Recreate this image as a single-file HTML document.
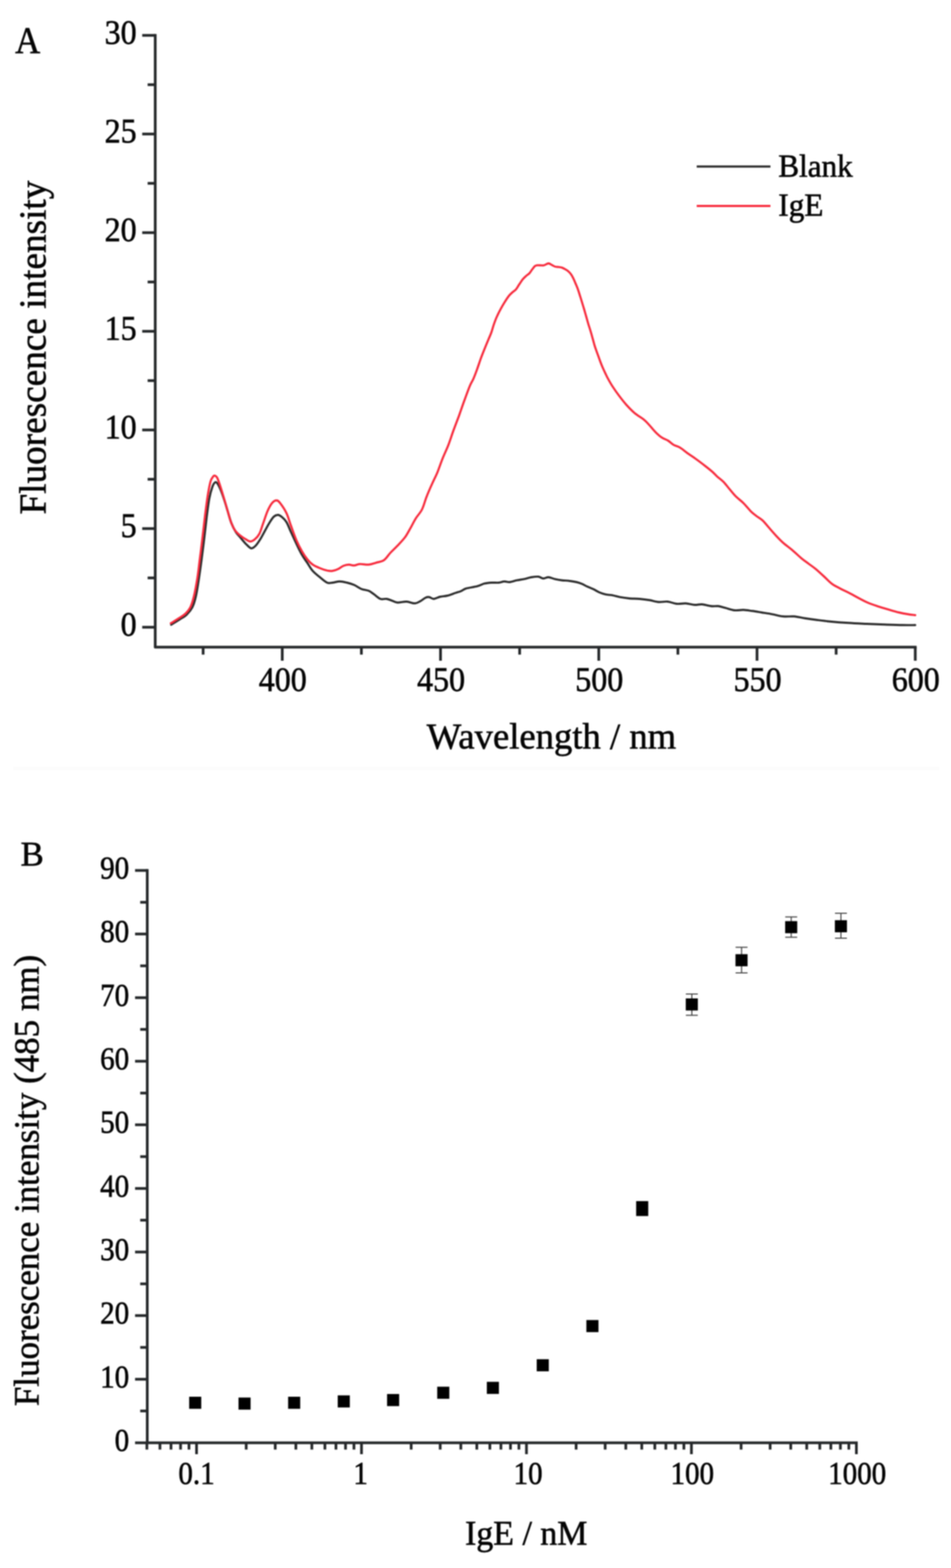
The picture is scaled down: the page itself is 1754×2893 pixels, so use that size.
<!DOCTYPE html>
<html lang="en"><head><meta charset="utf-8"><title>Fluorescence spectra and IgE titration</title>
<style>
html,body{margin:0;padding:0;background:#ffffff;}
body{width:1754px;height:2893px;overflow:hidden;}
svg{display:block;}
text{font-family:"Liberation Serif","DejaVu Serif",serif;fill:#050505;stroke:#050505;stroke-width:1.0px;}
.ta{font-size:59px;}
.la{font-size:67.6px;}
.tb{font-size:53.5px;}
.lb{font-size:64.5px;}
.ax{stroke:#25282a;stroke-width:5;fill:none;stroke-linejoin:round;}
.axb{stroke:#25282a;stroke-width:5;fill:none;}
</style></head><body>
<svg width="1754" height="2893" viewBox="0 0 1754 2893" style="filter:blur(1.2px)">
<rect x="0" y="0" width="1754" height="2893" fill="#ffffff"/>
<rect x="24" y="1415" width="1708" height="6" fill="#fcfcfc"/>
<g id="panelA">
<text class="la" style="font-size:64px" transform="translate(28.0 98.0) scale(1 1.08)">A</text>
<path class="ax" d="M286.30 62.70 V1194.00 H1690.60"/>
<path class="ax" d="M286.30 1157.20H262.30M286.30 1066.20H272.30M286.30 975.20H262.30M286.30 884.20H272.30M286.30 793.20H262.30M286.30 702.20H272.30M286.30 611.20H262.30M286.30 520.20H272.30M286.30 429.20H262.30M286.30 338.20H272.30M286.30 247.20H262.30M286.30 156.20H272.30M286.30 65.20H262.30M374.66 1194.00V1207.80M520.60 1194.00V1219.00M666.54 1194.00V1207.80M812.48 1194.00V1219.00M958.41 1194.00V1207.80M1104.35 1194.00V1219.00M1250.29 1194.00V1207.80M1396.22 1194.00V1219.00M1542.16 1194.00V1207.80M1688.10 1194.00V1219.00"/>
<text class="ta" text-anchor="end" transform="translate(252.0 1173.2) scale(1 1.08)">0</text>
<text class="ta" text-anchor="end" transform="translate(252.0 991.2) scale(1 1.08)">5</text>
<text class="ta" text-anchor="end" transform="translate(252.0 809.2) scale(1 1.08)">10</text>
<text class="ta" text-anchor="end" transform="translate(252.0 627.2) scale(1 1.08)">15</text>
<text class="ta" text-anchor="end" transform="translate(252.0 445.2) scale(1 1.08)">20</text>
<text class="ta" text-anchor="end" transform="translate(252.0 263.2) scale(1 1.08)">25</text>
<text class="ta" text-anchor="end" transform="translate(252.0 81.2) scale(1 1.08)">30</text>
<text class="ta" text-anchor="middle" transform="translate(521.6 1274.8) scale(1 1.08)">400</text>
<text class="ta" text-anchor="middle" transform="translate(813.5 1274.8) scale(1 1.08)">450</text>
<text class="ta" text-anchor="middle" transform="translate(1105.3 1274.8) scale(1 1.08)">500</text>
<text class="ta" text-anchor="middle" transform="translate(1397.2 1274.8) scale(1 1.08)">550</text>
<text class="ta" text-anchor="middle" transform="translate(1689.1 1274.8) scale(1 1.08)">600</text>
<text class="la" text-anchor="middle" transform="translate(1017.0 1381.2)">Wavelength / nm</text>
<text class="la" text-anchor="middle" style="font-size:68.7px" transform="translate(84.0 641.3) rotate(-90) scale(1 1.02)">Fluorescence intensity</text>
<path d="M315.7 1152.7C318.2 1151.1 325.9 1146.4 330.7 1143.3C335.4 1140.2 340.3 1137.8 344.3 1134.0C348.3 1130.2 351.8 1126.3 354.7 1120.7C357.5 1115.0 359.3 1109.0 361.3 1100.0C363.4 1091.0 365.3 1077.8 367.0 1066.7C368.7 1055.6 370.1 1045.6 371.7 1033.3C373.3 1021.1 375.1 1006.7 376.7 993.3C378.3 980.0 379.8 965.6 381.3 953.3C382.9 941.1 384.3 929.2 386.0 920.0C387.7 910.8 389.9 903.3 391.7 898.3C393.4 893.3 395.2 891.1 396.7 890.0C398.2 888.9 399.0 889.4 400.7 891.7C402.3 893.9 404.6 898.3 406.7 903.3C408.8 908.3 411.1 915.0 413.3 921.7C415.6 928.3 417.8 936.1 420.0 943.3C422.2 950.6 424.2 958.6 426.7 965.0C429.2 971.4 432.2 977.2 435.0 981.7C437.8 986.1 440.3 988.1 443.3 991.7C446.4 995.3 450.0 1000.0 453.3 1003.3C456.7 1006.7 460.3 1011.1 463.3 1011.7C466.4 1012.2 468.9 1009.4 471.7 1006.7C474.4 1003.9 477.2 999.4 480.0 995.0C482.8 990.6 485.6 985.0 488.3 980.0C491.1 975.0 493.9 969.4 496.7 965.0C499.4 960.6 502.3 955.8 505.0 953.3C507.7 950.8 510.2 949.9 512.7 950.0C515.2 950.1 517.4 951.8 520.0 954.0C522.6 956.2 525.6 958.7 528.3 963.3C531.1 967.9 533.6 975.0 536.7 981.7C539.7 988.3 543.3 996.4 546.7 1003.3C550.0 1010.3 553.3 1017.5 556.7 1023.3C560.0 1029.2 563.3 1033.3 566.7 1038.3C570.0 1043.3 572.8 1048.9 576.7 1053.3C580.6 1057.8 585.6 1061.4 590.0 1065.0C594.4 1068.6 599.4 1073.3 603.3 1075.0C607.2 1076.7 609.4 1075.4 613.3 1075.0C617.2 1074.6 622.2 1072.7 626.7 1072.7C631.1 1072.7 635.6 1073.9 640.0 1075.0C644.4 1076.1 648.9 1077.4 653.3 1079.3C657.8 1081.3 662.2 1084.9 666.7 1086.7C671.1 1088.4 676.1 1088.3 680.0 1090.0C683.9 1091.7 686.4 1094.2 690.0 1096.7C693.6 1099.2 697.8 1103.6 701.7 1105.0C705.6 1106.4 709.7 1104.4 713.3 1105.0C716.9 1105.6 720.0 1107.2 723.3 1108.3C726.7 1109.4 728.9 1111.4 733.3 1111.7C737.8 1111.9 744.7 1109.7 750.0 1110.0C755.3 1110.3 760.8 1113.4 765.0 1113.3C769.2 1113.2 771.7 1111.1 775.0 1109.3C778.3 1107.6 782.2 1103.9 785.0 1102.7C787.8 1101.4 789.2 1101.3 791.7 1101.7C794.2 1102.1 796.7 1105.1 800.0 1105.0C803.3 1104.9 807.5 1102.0 811.7 1101.0C815.8 1100.0 820.3 1100.2 825.0 1099.0C829.7 1097.8 835.8 1095.4 840.0 1094.0C844.2 1092.6 846.7 1092.1 850.0 1090.7C853.3 1089.3 855.0 1087.2 860.0 1085.7C865.0 1084.2 874.4 1083.2 880.0 1081.7C885.6 1080.2 888.9 1077.8 893.3 1076.7C897.8 1075.6 902.2 1075.3 906.7 1075.0C911.1 1074.7 916.1 1075.4 920.0 1075.0C923.9 1074.6 926.7 1072.8 930.0 1072.7C933.3 1072.5 936.1 1074.3 940.0 1074.0C943.9 1073.7 948.9 1071.6 953.3 1070.7C957.8 1069.7 962.2 1069.3 966.7 1068.3C971.1 1067.4 975.6 1065.7 980.0 1065.0C984.4 1064.3 989.7 1063.6 993.3 1064.0C996.9 1064.4 998.6 1067.2 1001.7 1067.3C1004.7 1067.5 1008.1 1064.8 1011.7 1065.0C1015.3 1065.2 1019.2 1067.4 1023.3 1068.3C1027.5 1069.3 1032.2 1070.1 1036.7 1070.7C1041.1 1071.2 1045.6 1071.1 1050.0 1071.7C1054.4 1072.2 1059.4 1073.1 1063.3 1074.0C1067.2 1074.9 1070.0 1075.9 1073.3 1077.3C1076.7 1078.7 1079.7 1080.7 1083.3 1082.3C1086.9 1084.0 1091.4 1085.6 1095.0 1087.3C1098.6 1089.1 1101.4 1091.1 1105.0 1092.7C1108.6 1094.2 1112.5 1095.7 1116.7 1096.7C1120.8 1097.6 1125.6 1097.5 1130.0 1098.3C1134.4 1099.2 1138.3 1100.7 1143.3 1101.7C1148.3 1102.6 1153.9 1103.4 1160.0 1104.0C1166.1 1104.6 1173.7 1104.4 1180.0 1105.0C1186.3 1105.6 1192.2 1106.4 1198.0 1107.3C1203.8 1108.3 1209.1 1110.2 1214.7 1110.7C1220.2 1111.1 1225.8 1109.4 1231.3 1110.0C1236.9 1110.6 1242.4 1113.4 1248.0 1114.0C1253.6 1114.6 1259.1 1113.0 1264.7 1113.3C1270.2 1113.7 1276.3 1115.7 1281.3 1116.0C1286.3 1116.3 1289.7 1114.6 1294.7 1115.0C1299.7 1115.4 1306.3 1117.8 1311.3 1118.3C1316.3 1118.9 1320.2 1117.8 1324.7 1118.3C1329.1 1118.9 1333.0 1120.4 1338.0 1121.7C1343.0 1122.9 1349.1 1125.4 1354.7 1126.0C1360.2 1126.6 1365.8 1125.1 1371.3 1125.3C1376.9 1125.6 1382.4 1126.6 1388.0 1127.3C1393.6 1128.1 1398.6 1129.0 1404.7 1130.0C1410.8 1131.0 1418.0 1132.1 1424.7 1133.3C1431.3 1134.6 1438.0 1136.7 1444.7 1137.3C1451.3 1138.0 1458.0 1136.8 1464.7 1137.3C1471.3 1137.9 1477.4 1139.6 1484.7 1140.7C1491.9 1141.8 1500.2 1143.0 1508.0 1144.0C1515.8 1145.0 1521.9 1145.8 1531.3 1146.7C1540.8 1147.6 1553.6 1148.6 1564.7 1149.3C1575.8 1150.1 1586.9 1150.5 1598.0 1151.0C1609.1 1151.5 1620.2 1151.9 1631.3 1152.3C1642.4 1152.7 1655.2 1153.2 1664.7 1153.3C1674.1 1153.5 1684.1 1153.3 1688.0 1153.3" fill="none" stroke="#2b2b2b" stroke-width="3.9" stroke-linejoin="round" stroke-linecap="round"/>
<path d="M315.0 1150.0C317.5 1148.4 325.4 1143.7 330.0 1140.7C334.6 1137.7 338.8 1135.3 342.3 1132.0C345.8 1128.7 348.4 1126.0 351.0 1120.7C353.6 1115.3 355.5 1109.0 357.7 1100.0C359.8 1091.0 362.2 1077.8 364.0 1066.7C365.8 1055.6 366.8 1045.6 368.3 1033.3C369.9 1021.1 371.7 1007.2 373.3 993.3C375.0 979.4 376.7 963.3 378.3 950.0C380.0 936.7 381.7 923.6 383.3 913.3C385.0 903.1 386.7 894.1 388.3 888.3C390.0 882.6 391.9 880.8 393.3 879.0C394.7 877.2 395.4 877.2 396.7 877.7C397.9 878.1 399.0 878.2 400.7 881.7C402.3 885.1 404.6 891.9 406.7 898.3C408.8 904.7 411.1 912.5 413.3 920.0C415.6 927.5 417.8 935.8 420.0 943.3C422.2 950.8 424.4 959.2 426.7 965.0C428.9 970.8 430.6 974.4 433.3 978.3C436.1 982.2 440.0 985.6 443.3 988.3C446.7 991.1 450.3 993.2 453.3 995.0C456.4 996.8 458.9 999.0 461.7 999.0C464.4 999.0 467.2 997.3 470.0 995.0C472.8 992.7 475.8 989.7 478.3 985.0C480.8 980.3 482.5 973.6 485.0 966.7C487.5 959.7 490.6 949.7 493.3 943.3C496.1 936.9 498.9 931.7 501.7 928.3C504.4 925.0 507.5 923.3 510.0 923.3C512.5 923.3 513.6 924.4 516.7 928.3C519.7 932.2 525.0 939.7 528.3 946.7C531.7 953.6 533.6 961.7 536.7 970.0C539.7 978.3 543.3 988.9 546.7 996.7C550.0 1004.4 553.3 1010.8 556.7 1016.7C560.0 1022.5 563.3 1027.5 566.7 1031.7C570.0 1035.8 572.8 1038.9 576.7 1041.7C580.6 1044.4 585.6 1046.5 590.0 1048.3C594.4 1050.2 599.4 1051.8 603.3 1052.7C607.2 1053.5 610.0 1053.8 613.3 1053.3C616.7 1052.9 620.0 1051.6 623.3 1050.0C626.7 1048.4 630.0 1045.4 633.3 1044.0C636.7 1042.6 640.0 1041.8 643.3 1041.7C646.7 1041.6 650.0 1043.5 653.3 1043.3C656.7 1043.2 658.9 1040.9 663.3 1040.7C667.8 1040.4 675.0 1042.1 680.0 1041.7C685.0 1041.3 688.6 1039.7 693.3 1038.3C698.1 1036.9 703.9 1036.4 708.3 1033.3C712.8 1030.3 715.8 1024.4 720.0 1020.0C724.2 1015.6 728.9 1011.4 733.3 1006.7C737.8 1001.9 742.8 996.9 746.7 991.7C750.6 986.4 753.3 980.8 756.7 975.0C760.0 969.2 763.1 962.5 766.7 956.7C770.3 950.8 775.0 946.7 778.3 940.0C781.7 933.3 783.6 924.4 786.7 916.7C789.7 908.9 793.3 900.8 796.7 893.3C800.0 885.8 803.3 879.7 806.7 871.7C810.0 863.6 813.3 853.3 816.7 845.0C820.0 836.7 823.3 830.3 826.7 821.7C830.0 813.1 833.3 802.5 836.7 793.3C840.0 784.2 843.3 775.8 846.7 766.7C850.0 757.5 853.3 747.5 856.7 738.3C860.0 729.2 863.9 718.2 866.7 711.7C869.4 705.1 870.9 704.0 873.1 698.9C875.3 693.8 877.8 687.2 880.1 680.8C882.4 674.4 884.8 667.1 887.1 660.7C889.4 654.4 891.8 648.6 894.1 642.7C896.5 636.9 899.2 630.5 901.2 625.6C903.2 620.7 904.7 617.7 906.2 613.5C907.7 609.3 908.9 604.5 910.2 600.5C911.5 596.5 912.9 592.8 914.2 589.4C915.5 586.0 916.7 583.6 918.2 580.4C919.7 577.2 921.3 574.1 923.3 570.4C925.3 566.7 927.8 562.3 930.3 558.3C932.8 554.3 935.8 549.5 938.3 546.3C940.8 543.1 943.1 541.2 945.3 539.2C947.5 537.2 949.4 536.5 951.4 534.2C953.4 531.9 955.2 528.4 957.4 525.2C959.6 522.0 962.2 517.8 964.4 515.1C966.6 512.4 968.4 510.9 970.4 509.1C972.4 507.3 974.6 506.1 976.5 504.1C978.4 502.1 979.8 499.3 981.5 497.1C983.2 494.9 985.0 492.3 986.5 491.0C988.0 489.7 988.8 489.8 990.5 489.5C992.2 489.2 994.5 489.5 996.5 489.5C998.5 489.5 1000.8 490.0 1002.6 489.7C1004.5 489.4 1006.0 488.1 1007.6 487.5C1009.2 486.9 1010.2 485.8 1012.0 486.0C1013.8 486.2 1016.1 488.0 1018.1 489.0C1020.1 490.0 1022.1 491.4 1024.1 492.0C1026.1 492.6 1028.1 492.3 1030.1 492.6C1032.1 492.9 1034.1 492.9 1036.1 493.6C1038.1 494.3 1040.2 495.4 1042.2 496.6C1044.2 497.8 1046.4 499.0 1048.2 500.6C1050.0 502.2 1051.7 504.0 1053.2 506.1C1054.7 508.2 1055.9 510.4 1057.2 513.1C1058.5 515.8 1059.9 519.0 1061.2 522.2C1062.5 525.4 1064.0 528.5 1065.3 532.2C1066.6 535.9 1068.0 540.1 1069.3 544.3C1070.6 548.5 1072.0 552.9 1073.3 557.3C1074.6 561.6 1076.0 565.9 1077.3 570.4C1078.6 574.9 1080.0 579.7 1081.3 584.4C1082.6 589.1 1083.9 594.0 1085.3 598.5C1086.7 603.0 1088.1 607.0 1089.4 611.5C1090.8 616.0 1092.2 621.4 1093.4 625.6C1094.6 629.8 1095.4 633.2 1096.4 636.6C1097.4 640.0 1098.2 642.4 1099.4 645.7C1100.6 649.1 1102.1 653.0 1103.4 656.7C1104.7 660.4 1106.1 664.3 1107.4 667.8C1108.7 671.3 1109.9 674.3 1111.4 677.8C1112.9 681.3 1114.8 685.3 1116.5 688.8C1118.2 692.3 1119.2 694.8 1121.5 698.9C1123.8 703.0 1126.7 708.3 1130.1 713.5C1133.5 718.7 1137.6 724.6 1141.8 730.2C1146.0 735.8 1150.5 741.6 1155.2 746.9C1160.0 752.2 1165.0 757.5 1170.3 762.0C1175.6 766.5 1182.5 770.1 1187.0 773.7C1191.5 777.3 1193.5 779.8 1197.1 783.7C1200.7 787.6 1204.9 793.2 1208.8 797.1C1212.7 801.0 1216.6 804.6 1220.5 807.2C1224.4 809.9 1228.6 810.8 1232.2 813.0C1235.8 815.2 1238.6 818.5 1242.2 820.6C1245.8 822.7 1249.7 823.1 1253.9 825.6C1258.1 828.1 1262.3 832.0 1267.3 835.6C1272.3 839.2 1278.5 843.2 1284.1 847.3C1289.7 851.3 1295.8 856.0 1300.8 859.9C1305.8 863.8 1310.6 867.6 1314.2 870.8C1317.8 874.0 1319.2 876.0 1322.6 879.1C1326.0 882.2 1330.7 885.3 1334.7 889.3C1338.6 893.4 1342.4 898.8 1346.3 903.3C1350.2 907.9 1353.8 912.5 1358.0 916.7C1362.2 920.8 1366.9 923.9 1371.3 928.3C1375.8 932.8 1380.8 939.4 1384.7 943.3C1388.6 947.2 1391.1 948.9 1394.7 951.7C1398.3 954.4 1402.4 956.4 1406.3 960.0C1410.2 963.6 1413.8 968.6 1418.0 973.3C1422.2 978.1 1426.9 983.6 1431.3 988.3C1435.8 993.1 1439.7 997.2 1444.7 1001.7C1449.7 1006.1 1455.8 1010.3 1461.3 1015.0C1466.9 1019.7 1473.0 1025.8 1478.0 1030.0C1483.0 1034.2 1486.9 1036.7 1491.3 1040.0C1495.8 1043.3 1499.7 1045.8 1504.7 1050.0C1509.7 1054.2 1516.3 1060.4 1521.3 1065.0C1526.3 1069.6 1529.7 1073.7 1534.7 1077.3C1539.7 1080.9 1545.8 1083.7 1551.3 1086.7C1556.9 1089.6 1562.4 1092.1 1568.0 1095.0C1573.6 1097.9 1579.1 1101.1 1584.7 1104.0C1590.2 1106.9 1595.8 1109.9 1601.3 1112.3C1606.9 1114.7 1611.9 1116.3 1618.0 1118.3C1624.1 1120.3 1631.3 1122.4 1638.0 1124.3C1644.7 1126.3 1651.9 1128.5 1658.0 1130.0C1664.1 1131.5 1669.7 1132.5 1674.7 1133.3C1679.7 1134.2 1685.8 1134.7 1688.0 1135.0" fill="none" stroke="#f72a3c" stroke-width="3.9" stroke-linejoin="round" stroke-linecap="round"/>
<path d="M1285 307.3H1421" stroke="#2b2b2b" stroke-width="4.0" fill="none"/>
<path d="M1285 380H1421" stroke="#f72a3c" stroke-width="4.0" fill="none"/>
<text class="ta" style="font-size:57.5px" transform="translate(1435.5 325.8) scale(1 1.04)">Blank</text>
<text class="ta" style="font-size:57.5px" transform="translate(1435.5 397.5) scale(1 1.04)">IgE</text>
</g>
<g id="panelB">
<text class="lb" style="font-size:64px" transform="translate(38.0 1597.0)">B</text>
<path class="axb" d="M271.60 1603.53 V2664.50 M249.10 2662.00 H1582.00"/>
<path class="axb" d="M271.60 2603.34H258.60M271.60 2544.67H249.10M271.60 2486.01H258.60M271.60 2427.34H249.10M271.60 2368.68H258.60M271.60 2310.01H249.10M271.60 2251.34H258.60M271.60 2192.68H249.10M271.60 2134.01H258.60M271.60 2075.35H249.10M271.60 2016.68H258.60M271.60 1958.02H249.10M271.60 1899.36H258.60M271.60 1840.69H249.10M271.60 1782.03H258.60M271.60 1723.36H249.10M271.60 1664.69H258.60M271.60 1606.03H249.10M270.91 2662.00V2674.50M295.00 2662.00V2674.50M315.37 2662.00V2674.50M333.02 2662.00V2674.50M348.58 2662.00V2674.50M362.50 2662.00V2683.00M454.09 2662.00V2674.50M507.66 2662.00V2674.50M545.68 2662.00V2674.50M575.16 2662.00V2674.50M599.25 2662.00V2674.50M619.62 2662.00V2674.50M637.27 2662.00V2674.50M652.83 2662.00V2674.50M666.75 2662.00V2683.00M758.34 2662.00V2674.50M811.91 2662.00V2674.50M849.93 2662.00V2674.50M879.41 2662.00V2674.50M903.50 2662.00V2674.50M923.87 2662.00V2674.50M941.52 2662.00V2674.50M957.08 2662.00V2674.50M971.00 2662.00V2683.00M1062.59 2662.00V2674.50M1116.16 2662.00V2674.50M1154.18 2662.00V2674.50M1183.66 2662.00V2674.50M1207.75 2662.00V2674.50M1228.12 2662.00V2674.50M1245.77 2662.00V2674.50M1261.33 2662.00V2674.50M1275.25 2662.00V2683.00M1366.84 2662.00V2674.50M1420.41 2662.00V2674.50M1458.43 2662.00V2674.50M1487.91 2662.00V2674.50M1512.00 2662.00V2674.50M1532.37 2662.00V2674.50M1550.02 2662.00V2674.50M1565.58 2662.00V2674.50M1579.50 2662.00V2683.00"/>
<text class="tb" text-anchor="end" transform="translate(238.3 2677.0) scale(1 1.11)">0</text>
<text class="tb" text-anchor="end" transform="translate(238.3 2559.7) scale(1 1.11)">10</text>
<text class="tb" text-anchor="end" transform="translate(238.3 2442.3) scale(1 1.11)">20</text>
<text class="tb" text-anchor="end" transform="translate(238.3 2325.0) scale(1 1.11)">30</text>
<text class="tb" text-anchor="end" transform="translate(238.3 2207.7) scale(1 1.11)">40</text>
<text class="tb" text-anchor="end" transform="translate(238.3 2090.3) scale(1 1.11)">50</text>
<text class="tb" text-anchor="end" transform="translate(238.3 1973.0) scale(1 1.11)">60</text>
<text class="tb" text-anchor="end" transform="translate(238.3 1855.7) scale(1 1.11)">70</text>
<text class="tb" text-anchor="end" transform="translate(238.3 1738.4) scale(1 1.11)">80</text>
<text class="tb" text-anchor="end" transform="translate(238.3 1621.0) scale(1 1.11)">90</text>
<text class="tb" text-anchor="middle" transform="translate(362.5 2737.5) scale(1 1.11)">0.1</text>
<text class="tb" text-anchor="middle" transform="translate(665.2 2737.5) scale(1 1.11)">1</text>
<text class="tb" text-anchor="middle" transform="translate(974.0 2737.5) scale(1 1.11)">10</text>
<text class="tb" text-anchor="middle" transform="translate(1276.8 2737.5) scale(1 1.11)">100</text>
<text class="tb" text-anchor="middle" transform="translate(1581.0 2737.5) scale(1 1.11)">1000</text>
<text class="lb" text-anchor="middle" style="font-size:62.5px" transform="translate(970.6 2850.0) scale(1 1.03)">IgE / nM</text>
<text class="lb" text-anchor="middle" transform="translate(71.0 2178.0) rotate(-90) scale(1 1.02)">Fluorescence intensity (485 nm)</text>
<rect x="348.9" y="2577.0" width="22.3" height="22.3" fill="#000"/>
<rect x="439.9" y="2578.5" width="22.3" height="22.3" fill="#000"/>
<rect x="531.4" y="2577.0" width="22.3" height="22.3" fill="#000"/>
<rect x="622.9" y="2574.5" width="22.3" height="22.3" fill="#000"/>
<rect x="713.9" y="2572.0" width="22.3" height="22.3" fill="#000"/>
<rect x="806.4" y="2558.5" width="22.3" height="22.3" fill="#000"/>
<rect x="897.9" y="2549.5" width="22.3" height="22.3" fill="#000"/>
<rect x="989.9" y="2507.8" width="22.3" height="22.3" fill="#000"/>
<rect x="1081.5" y="2435.5" width="22.3" height="22.3" fill="#000"/>
<rect x="1173.3" y="2216.1" width="22.3" height="27.5" fill="#000"/>
<path d="M1276.0 1834.0V1873.3M1265.0 1834.0H1287.0M1265.0 1873.3H1287.0" stroke="#444" stroke-width="2" fill="none"/>
<rect x="1264.8" y="1842.1" width="22.3" height="22.3" fill="#000"/>
<path d="M1367.7 1747.7V1795.0M1356.7 1747.7H1378.7M1356.7 1795.0H1378.7" stroke="#444" stroke-width="2" fill="none"/>
<rect x="1356.5" y="1760.5" width="22.3" height="22.3" fill="#000"/>
<path d="M1459.3 1691.7V1729.3M1448.3 1691.7H1470.3M1448.3 1729.3H1470.3" stroke="#444" stroke-width="2" fill="none"/>
<rect x="1448.1" y="1699.5" width="22.3" height="22.3" fill="#000"/>
<path d="M1551.0 1685.0V1731.0M1540.0 1685.0H1562.0M1540.0 1731.0H1562.0" stroke="#444" stroke-width="2" fill="none"/>
<rect x="1539.8" y="1697.8" width="22.3" height="22.3" fill="#000"/>
</g>
</svg>
</body></html>
